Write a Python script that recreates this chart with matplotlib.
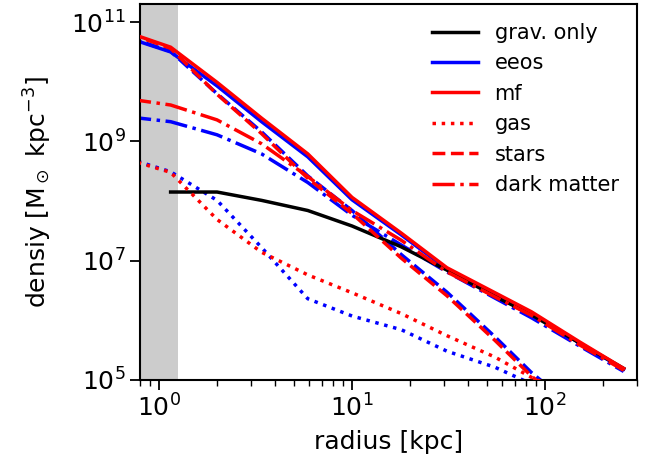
import numpy as np
import matplotlib
matplotlib.use("Agg")
import matplotlib.pyplot as plt
from matplotlib.lines import Line2D
from matplotlib.ticker import NullLocator

# radial bins [kpc]
radius = [0.7, 1.15, 2.0, 3.4, 5.9, 10, 18, 31, 55, 85, 150, 255]

# log10 density [Msun kpc^-3]
grav_only = [np.nan, 8.15, 8.15, 8.01, 7.84, 7.58, 7.23, 6.84, 6.40, 6.09, 5.62, 5.19]

mf_total = [10.82, 10.58, 9.99, 9.39, 8.79, 8.06, 7.46, 6.88, 6.46, 6.14, 5.64, 5.19]
mf_gas = [8.69, 8.48, 7.69, 7.14, 6.76, 6.46, 6.11, 5.74, 5.38, 5.04, 4.68, 4.34]
mf_stars = [10.81, 10.56, 9.79, 9.13, 8.38, 7.79, 7.04, 6.41, 5.66, 5.06, 4.40, 3.80]
mf_dm = [9.71, 9.61, 9.36, 8.96, 8.41, 7.84, 7.34, 6.81, 6.39, 6.08, 5.59, 5.16]

eeos_total = [10.73, 10.50, 9.93, 9.33, 8.74, 8.02, 7.43, 6.86, 6.44, 6.12, 5.62, 5.18]
eeos_gas = [8.71, 8.49, 8.01, 7.22, 6.36, 6.07, 5.84, 5.48, 5.21, 4.93, 4.51, 4.18]
eeos_stars = [10.74, 10.51, 9.80, 9.16, 8.42, 7.84, 7.10, 6.47, 5.72, 5.12, 4.46, 3.86]
eeos_dm = [9.41, 9.33, 9.11, 8.79, 8.31, 7.76, 7.26, 6.81, 6.37, 6.04, 5.57, 5.14]

res_limit = 1.26

plt.rcParams["font.family"] = ["DejaVu Sans"]

fig = plt.figure(figsize=(6.49, 4.66), dpi=100)
ax = fig.add_axes([0.216, 0.185, 0.766, 0.806])

r = np.array(radius)
lw = 2.5

def draw(vals, color, ls, z):
    ax.plot(r, 10 ** np.array(vals), color=color, ls=ls, lw=lw, zorder=z)

ax.axvspan(0.5, res_limit, color="#cccccc", lw=0, zorder=0)

draw(eeos_total, "blue", "-", 2)
draw(eeos_gas, "blue", ":", 2)
draw(eeos_stars, "blue", "--", 2)
draw(eeos_dm, "blue", "-.", 2)
draw(grav_only, "black", "-", 3)
draw(mf_total, "red", "-", 4)
draw(mf_gas, "red", ":", 4)
draw(mf_stars, "red", "--", 4)
draw(mf_dm, "red", "-.", 4)

ax.set_xscale("log")
ax.set_yscale("log")
ax.set_xlim(0.8, 300)
ax.set_ylim(1e5, 2e11)
ax.set_yticks([1e5, 1e7, 1e9, 1e11])
ax.yaxis.set_minor_locator(NullLocator())
ax.tick_params(labelsize=18, width=1.3)
ax.tick_params(which="major", length=7)
ax.tick_params(which="minor", length=4, width=1.0)
for s in ax.spines.values():
    s.set_linewidth(1.5)

ax.set_xlabel("radius [kpc]", fontsize=18, labelpad=6)
ax.set_ylabel(r"densiy [M$_\odot$ kpc$^{-3}$]", fontsize=18, labelpad=12)

handles = [
    Line2D([], [], color="black", ls="-", lw=lw),
    Line2D([], [], color="blue", ls="-", lw=lw),
    Line2D([], [], color="red", ls="-", lw=lw),
    Line2D([], [], color="red", ls=":", lw=lw),
    Line2D([], [], color="red", ls="--", lw=lw),
    Line2D([], [], color="red", ls="-.", lw=lw),
]
labels = ["grav. only", "eeos", "mf", "gas", "stars", "dark matter"]
ax.legend(handles, labels, loc="upper right", frameon=False, fontsize=15,
          handlelength=2.2, labelspacing=0.5)

fig.savefig("out.png", dpi=100)
